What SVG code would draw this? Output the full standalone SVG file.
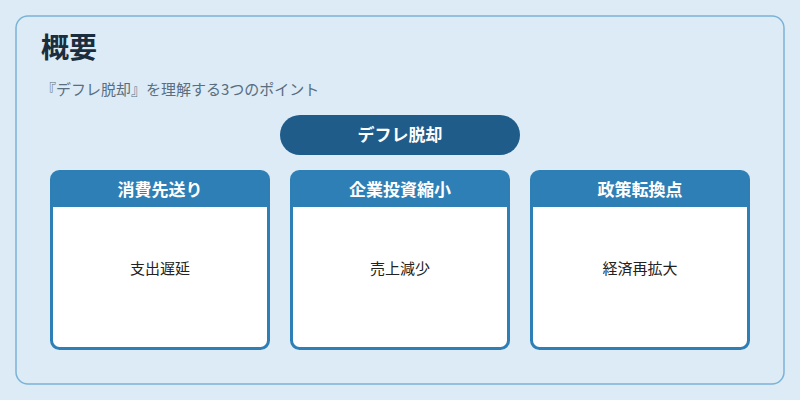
<svg xmlns="http://www.w3.org/2000/svg" width="800" height="400" viewBox="0 0 800 400">
<style>
text{font-family:"Noto Sans CJK JP","Noto Sans",sans-serif}
.card{fill:#ffffff;stroke:#2e7fb5;stroke-width:3}
.hd{fill:#2e7fb5}
.ht{fill:#ffffff;font-size:17px;font-weight:bold;text-anchor:middle}
.bt{fill:#222222;font-size:15px;text-anchor:middle}
</style>
<rect width="800" height="400" fill="#dcebf6"/>
<rect x="16" y="16" width="768" height="368" rx="12" fill="#dcebf6" stroke="#7ab3d6" stroke-width="1.5"/>
<text x="41" y="58" font-size="28" font-weight="bold" fill="#1a2e40">概要</text>
<text x="41" y="95" font-size="15" fill="#5a6e80">『デフレ脱却』を理解する3つのポイント</text>
<g id="center">
<rect x="280" y="115" width="240" height="40" rx="20" fill="#1f5c8a"/>
<text x="400" y="141" class="ht">デフレ脱却</text>
</g>
<g id="connectors"></g>
<g id="card1">
<rect x="51.5" y="171.5" width="217" height="177" rx="8" class="card"/>
<path d="M51.5 207 V179.5 a8 8 0 0 1 8 -8 H260.5 a8 8 0 0 1 8 8 V207 Z" class="hd"/>
<text x="160" y="196" class="ht">消費先送り</text>
<text x="160" y="274" class="bt">支出遅延</text>
</g>
<g id="card2">
<rect x="291.5" y="171.5" width="217" height="177" rx="8" class="card"/>
<path d="M291.5 207 V179.5 a8 8 0 0 1 8 -8 H500.5 a8 8 0 0 1 8 8 V207 Z" class="hd"/>
<text x="400" y="196" class="ht">企業投資縮小</text>
<text x="400" y="274" class="bt">売上減少</text>
</g>
<g id="card3">
<rect x="531.5" y="171.5" width="217" height="177" rx="8" class="card"/>
<path d="M531.5 207 V179.5 a8 8 0 0 1 8 -8 H740.5 a8 8 0 0 1 8 8 V207 Z" class="hd"/>
<text x="640" y="196" class="ht">政策転換点</text>
<text x="640" y="274" class="bt">経済再拡大</text>
</g>
</svg>
